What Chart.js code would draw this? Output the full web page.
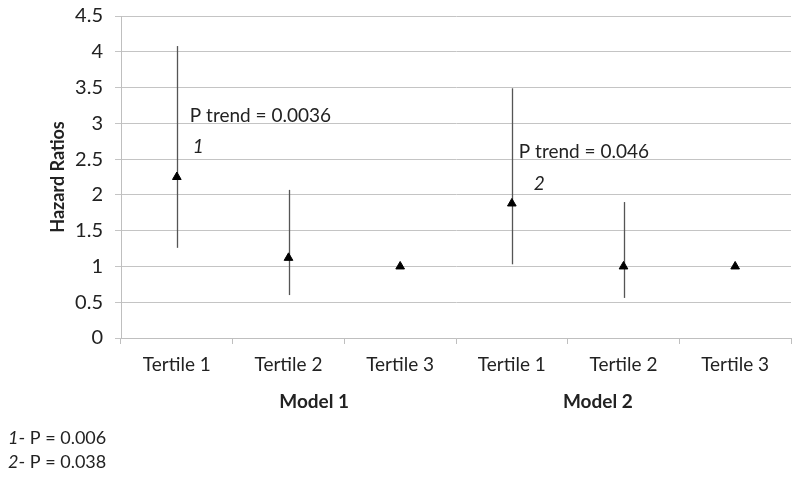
<!DOCTYPE html>
<html>
<head>
<meta charset="utf-8">
<script src="https://cdn.jsdelivr.net/npm/chart.js@4.4.0/dist/chart.umd.min.js"></script>
<style>
  html, body { margin: 0; padding: 0; background: #fff; }
  #wrap { width: 800px; height: 479px; position: relative; }
</style>
</head>
<body>
<div id="wrap"><canvas id="hrChart"></canvas></div>
<script>
// chart data
const categories = ['Tertile 1', 'Tertile 2', 'Tertile 3', 'Tertile 1', 'Tertile 2', 'Tertile 3'];
const groups = ['Model 1', 'Model 2'];
const hazardRatios = [2.25, 1.12, 1.0, 1.88, 1.0, 1.0];
const ciLower = [1.26, 0.60, null, 1.03, 0.56, null];
const ciUpper = [4.08, 2.07, null, 3.49, 1.90, null];
const yTicks = [0, 0.5, 1, 1.5, 2, 2.5, 3, 3.5, 4, 4.5];

// notes written inside the plot
const noteTexts = ['P trend = 0.0036', '1', 'P trend = 0.046', '2'];
const noteIndex = [0, 0, 3, 3];
const noteValues = [3.1, 2.67, 2.6, 2.15];
const footnotes = [['1', '- P = 0.006'], ['2', '- P = 0.038']];

const FONT = 'Lato, "Open Sans", sans-serif';
const TEXT = '#222';

// draws the CI whiskers, the notes, the group labels and the footnotes
const extras = {
  id: 'extras',
  beforeDatasetsDraw(chart) {
    const { ctx, scales: { x, y } } = chart;
    ctx.save();
    ctx.strokeStyle = '#555';
    ctx.lineWidth = 1.3;
    hazardRatios.forEach((v, i) => {
      if (ciLower[i] == null) return;
      const px = Math.round(x.getPixelForValue(i)) + 0.5;
      ctx.beginPath();
      ctx.moveTo(px, y.getPixelForValue(ciUpper[i]));
      ctx.lineTo(px, y.getPixelForValue(ciLower[i]));
      ctx.stroke();
    });
    ctx.restore();
  },
  afterDraw(chart) {
    const { ctx, scales: { x, y } } = chart;
    ctx.save();
    ctx.fillStyle = TEXT;
    ctx.textBaseline = 'middle';

    // notes
    noteTexts.forEach((t, i) => {
      const isItalic = t.length === 1;
      ctx.font = (isItalic ? 'italic ' : '') + '19px ' + FONT;
      ctx.textAlign = 'left';
      const dx = isItalic ? (i === 1 ? 16 : 22) : (i === 0 ? 13 : 7);
      ctx.fillText(t, x.getPixelForValue(noteIndex[i]) + dx, y.getPixelForValue(noteValues[i]));
    });

    // group labels under the categories
    ctx.font = 'bold 19px ' + FONT;
    ctx.textAlign = 'center';
    const groupPos = [1.23, 3.77];
    groups.forEach((g, i) => {
      ctx.fillText(g, x.getPixelForValue(groupPos[i]), 402);
    });

    // y axis title
    ctx.save();
    ctx.translate(58, 177);
    ctx.rotate(-Math.PI / 2);
    ctx.font = 'bold 18px ' + FONT;
    ctx.fillText('Hazard Ratios', 0, 0);
    ctx.restore();

    // footnotes
    ctx.textAlign = 'left';
    footnotes.forEach((f, i) => {
      const fy = 438 + i * 24;
      ctx.font = 'italic 18px ' + FONT;
      ctx.fillText(f[0], 8, fy);
      const w = ctx.measureText(f[0]).width;
      ctx.font = '18px ' + FONT;
      ctx.fillText(f[1], 8 + w, fy);
    });
    ctx.restore();
  }
};

const ctx = document.getElementById('hrChart').getContext('2d');
const hrChart = new Chart(ctx, {
  type: 'line',
  data: {
    labels: categories,
    datasets: [{
      label: 'Hazard Ratio',
      data: hazardRatios,
      showLine: false,
      pointStyle: 'triangle',
      pointRadius: 5,
      pointBackgroundColor: '#000',
      pointBorderColor: '#000',
      borderWidth: 1
    }]
  },
  options: {
    responsive: true,
    maintainAspectRatio: false,
    animation: false,
    layout: { padding: { top: 16, right: 9, left: 0, bottom: 0 } },
    plugins: {
      legend: { display: false },
      tooltip: { enabled: false }
    },
    scales: {
      x: {
        offset: true,
        afterFit: (s) => { s.height = 141; s.paddingLeft = 0; s.paddingRight = 0; },
        grid: {
          display: true,
          offset: true,
          drawOnChartArea: false,
          tickLength: 6,
          color: '#bfbfbf'
        },
        border: { color: '#bfbfbf' },
        ticks: {
          color: TEXT,
          padding: 9,
          font: { family: FONT, size: 19 }
        }
      },
      y: {
        min: 0,
        max: 4.5,
        afterFit: (s) => { s.width = 121; s.paddingTop = 0; s.paddingBottom = 0; },
        afterBuildTicks: (s) => { s.ticks = yTicks.map(v => ({ value: v })); },
        grid: { color: '#c4c4c4', tickLength: 6 },
        border: { color: '#bfbfbf' },
        ticks: {
          color: TEXT,
          padding: 12,
          font: { family: FONT, size: 20 },
          callback: (v) => String(v)
        }
      }
    }
  },
  plugins: [extras]
});
</script>
</body>
</html>
